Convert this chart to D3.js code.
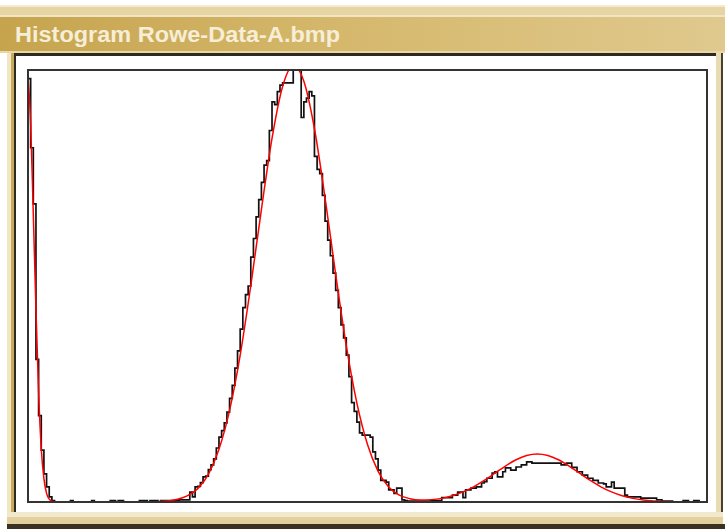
<!DOCTYPE html>
<html>
<head>
<meta charset="utf-8">
<script src="https://cdn.jsdelivr.net/npm/d3@7/dist/d3.min.js"></script>
<style>
  body { margin: 0; background: #fff; }
  svg { display: block; }
</style>
</head>
<body>
<div id="chart"></div>
<script>
const windowTitle = "Histogram Rowe-Data-A.bmp";

// grey levels 0..255, counts as % of plot height (peak clipped at top)
const binCounts = [
  98, 82, 69, 33, 20, 12, 6.5, 3.5, 1.2, 0.3,
  0, 0, 0, 0, 0, 0, 0.3, 0, 0, 0,
  0, 0, 0, 0, 0.3, 0, 0, 0, 0, 0,
  0, 0.3, 0.3, 0, 0.3, 0.3, 0, 0, 0, 0,
  0, 0, 0.3, 0.3, 0.3, 0, 0.3, 0.3, 0.3, 0,
  0.3, 0.3, 0.3, 0, 0.3, 0.3, 0.3, 0.5, 0.5, 0.5,
  0.5, 2.3, 1.2, 3.5, 3.6, 4.5, 5.8, 6, 7.5, 8.6,
  10, 12.5, 15, 16.5, 18.3, 20.8, 24, 27, 31, 35,
  40, 45, 48, 50, 56.7, 61, 66, 70, 74, 78,
  79, 86, 92.6, 92, 95, 96.5, 97, 97, 97, 97,
  102, 103, 101, 89, 92.6, 93.5, 95, 94, 80, 77,
  76, 71, 65, 60.6, 57, 53, 49, 45, 41, 38,
  34, 29, 23, 21, 18.5, 16, 15.5, 15.5, 15.5, 15,
  11.6, 10, 7.4, 5, 5, 4.6, 2.8, 2.8, 2, 3.2,
  3.2, 0.5, 0.3, 0.2, 0.2, 0.2, 0.2, 0.2, 0.2, 0.2,
  0.2, 0.2, 0.3, 0.3, 0.3, 0.3, 1, 1, 1, 1,
  1.6, 1.6, 2.3, 2.3, 1, 2.8, 2.8, 3.2, 3.2, 3.5,
  3.5, 4.4, 4.7, 5.5, 5.5, 6.7, 7, 5.8, 5.8, 7,
  7.9, 7.9, 7.4, 7.4, 8.1, 8.1, 8.6, 8.6, 9.3, 9.3,
  9, 9, 9, 9, 9, 9, 9, 9, 9, 9,
  9, 8.6, 8.6, 9, 9, 8, 8, 7, 7, 6.2,
  6.2, 5.5, 5.5, 5, 5, 4.4, 4.4, 4.2, 3.5, 3.5,
  4.6, 3.2, 3.2, 3.2, 3.2, 1.6, 1.2, 1.2, 1.2, 1.2,
  1.2, 0.9, 0.9, 0.9, 0.9, 0.9, 0.9, 0.5, 0.5, 0.2,
  0.2, 0.2, 0.2, 0, 0, 0, 0, 0.3, 0.3, 0,
  0, 0.3, 0.3, 0, 0, 0
];

// fitted curve (red)
const fitBins = [0, 1, 2, 3, 4, 5, 6, 7, 8, 9, 10, 12, 20, 30, 40,
  44, 48, 52, 56, 60, 64, 68, 72, 76, 80, 84, 88, 92, 96, 100, 104, 108, 112, 116, 120,
  124, 128, 132, 136, 140, 144, 148, 152, 156, 160, 164, 168, 172, 176, 180, 184, 188, 192,
  196, 200, 204, 208, 212, 216, 220, 224, 228, 232, 236, 240, 248, 256];
const fitValues = [99, 87.6, 66.7, 44.6, 25.3, 12.4, 5.4, 2.0, 0.65, 0.2, 0.05, 0, 0, 0, 0,
  0.02, 0.07, 0.21, 0.57, 1.4, 3.1, 6.4, 12.2, 21.2, 34, 50.1, 67.7, 84.2, 96.2, 101, 97.4, 86.4, 70.4, 52.7, 36.2,
  22.9, 13.3, 7.1, 3.5, 1.57, 0.76, 0.48, 0.55, 0.84, 1.44, 2.33, 3.52, 5.0, 6.66, 8.33, 9.77, 10.75, 11.1,
  10.75, 9.77, 8.33, 6.66, 5.0, 3.52, 2.33, 1.44, 0.84, 0.46, 0.23, 0.11, 0, 0];

const W = 725, H = 529;
const plot = {left: 28, right: 707, top: 70, bottom: 502};

const svg = d3.select("#chart").append("svg")
    .attr("width", W)
    .attr("height", H)
    .attr("viewBox", "0 0 " + W + " " + H);

const defs = svg.append("defs");
const grad = defs.append("linearGradient")
    .attr("id", "titlebar")
    .attr("x1", "0").attr("x2", "1").attr("y1", "0").attr("y2", "0");
grad.append("stop").attr("offset", "0%").attr("stop-color", "#c6a44e");
grad.append("stop").attr("offset", "50%").attr("stop-color", "#d6b96e");
grad.append("stop").attr("offset", "100%").attr("stop-color", "#e0c98e");

defs.append("clipPath").attr("id", "plotclip")
  .append("rect")
    .attr("x", plot.left)
    .attr("y", plot.top)
    .attr("width", plot.right - plot.left)
    .attr("height", plot.bottom - plot.top);

// window frame
svg.append("rect").attr("width", W).attr("height", H).attr("fill", "#fff");
svg.append("rect").attr("x", 0).attr("y", 5).attr("width", W).attr("height", 2).attr("fill", "#f3ead0");
svg.append("rect").attr("x", 0).attr("y", 7).attr("width", W).attr("height", 9).attr("fill", "#e6d4a2");
svg.append("rect").attr("x", 0).attr("y", 15).attr("width", W).attr("height", 2).attr("fill", "#f0e4c4");
svg.append("rect").attr("x", 0).attr("y", 17).attr("width", W).attr("height", 34).attr("fill", "url(#titlebar)");
svg.append("rect").attr("x", 0).attr("y", 51).attr("width", W).attr("height", 2).attr("fill", "#e9d8a6");
svg.append("rect").attr("x", 14).attr("y", 53).attr("width", 709).attr("height", 3).attr("fill", "#2e2a22");

// left edge
svg.append("rect").attr("x", 7).attr("y", 53).attr("width", 5).attr("height", 472).attr("fill", "#f1e6c6");
svg.append("rect").attr("x", 11).attr("y", 53).attr("width", 3).attr("height", 472).attr("fill", "#c9aa58");
svg.append("rect").attr("x", 14).attr("y", 53).attr("width", 2).attr("height", 472).attr("fill", "#2e2a22");
// right edge
svg.append("rect").attr("x", 716).attr("y", 53).attr("width", 5).attr("height", 472).attr("fill", "#eadcb2");
svg.append("rect").attr("x", 721).attr("y", 53).attr("width", 2).attr("height", 472).attr("fill", "#4a4030");
// bottom edge
svg.append("rect").attr("x", 7).attr("y", 512).attr("width", 716).attr("height", 5).attr("fill", "#f2e9cc");
svg.append("rect").attr("x", 7).attr("y", 517).attr("width", 716).attr("height", 7).attr("fill", "#e2d09e");
svg.append("rect").attr("x", 7).attr("y", 524).attr("width", 718).attr("height", 5).attr("fill", "#3a3222");

svg.append("text")
    .attr("x", 15)
    .attr("y", 42)
    .attr("font-family", "'Liberation Sans', Arial, sans-serif")
    .attr("font-weight", "bold")
    .attr("font-size", 22)
    .attr("fill", "#f6eed6")
    .attr("textLength", 325)
    .attr("lengthAdjust", "spacingAndGlyphs")
    .text(windowTitle);

// scales
const x = d3.scaleLinear().domain([0, binCounts.length]).range([plot.left, plot.right]);
const y = d3.scaleLinear().domain([0, 100]).range([plot.bottom, plot.top]);

const g = svg.append("g").attr("clip-path", "url(#plotclip)");

// histogram as step line
const stepPts = binCounts.map((v, i) => [i, v]);
stepPts.push([binCounts.length, binCounts[binCounts.length - 1]]);
g.append("path")
    .datum(stepPts)
    .attr("fill", "none")
    .attr("stroke", "#111")
    .attr("stroke-width", 1.7)
    .attr("d", d3.line()
        .x((d) => { return x(d[0]); })
        .y((d) => { return y(d[1]); })
        .curve(d3.curveStepAfter));

// fitted curve
g.append("path")
    .datum(fitBins.map((b, i) => [b, fitValues[i]]))
    .attr("fill", "none")
    .attr("stroke", "#ff0000")
    .attr("stroke-width", 1.5)
    .attr("d", d3.line()
        .x((d) => { return x(d[0]); })
        .y((d) => { return y(d[1]); })
        .curve(d3.curveMonotoneX));

// plot border
svg.append("rect")
    .attr("x", plot.left)
    .attr("y", plot.top)
    .attr("width", plot.right - plot.left)
    .attr("height", plot.bottom - plot.top)
    .attr("fill", "none")
    .attr("stroke", "#333")
    .attr("stroke-width", 2);
</script>
</body>
</html>
